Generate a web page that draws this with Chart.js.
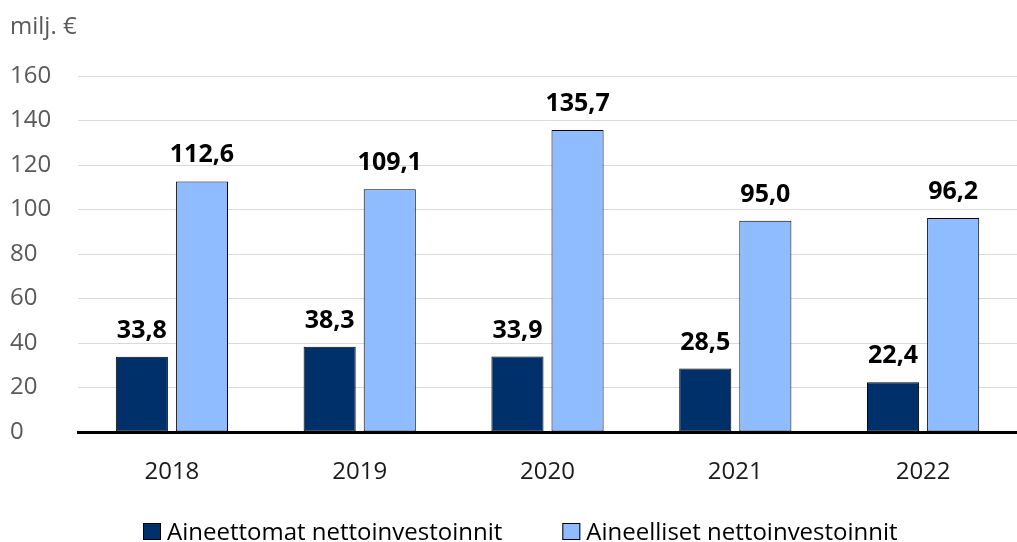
<!DOCTYPE html>
<html>
<head>
<meta charset="utf-8">
<script src="https://cdn.jsdelivr.net/npm/chart.js@4/dist/chart.umd.min.js"></script>
<style>
    html, body { margin: 0; padding: 0; background: #ffffff; }
    #wrap { width: 1017px; height: 542px; }
</style>
</head>
<body>
<div id="wrap"><canvas id="myChart" width="1017" height="542"></canvas></div>
<script>
// Data
var vuodet = ["2018", "2019", "2020", "2021", "2022"];
var aineettomat = [33.8, 38.3, 33.9, 28.5, 22.4];
var aineelliset = [112.6, 109.1, 135.7, 95.0, 96.2];
var sarjaNimet = ["Aineettomat nettoinvestoinnit", "Aineelliset nettoinvestoinnit"];
var yksikko = "milj. €";

var fontti = "'Open Sans', 'Noto Sans', sans-serif";

function muotoile(v) {
    return v.toFixed(1).replace(".", ",");
}

// arvot pylväiden yläpuolelle
var arvoPlugin = {
    id: "arvot",
    afterDatasetsDraw: function (chart) {
        var ctx = chart.ctx;
        ctx.save();
        ctx.font = "bold 25px " + fontti;
        ctx.fillStyle = "#000000";
        ctx.textAlign = "center";
        ctx.textBaseline = "alphabetic";
        chart.data.datasets.forEach(function (ds, i) {
            chart.getDatasetMeta(i).data.forEach(function (el, j) {
                ctx.fillText(muotoile(ds.data[j]), el.x, el.y - 19);
            });
        });
        ctx.restore();
    }
};

// yksikkö ja selite
var tekstiPlugin = {
    id: "tekstit",
    afterDraw: function (chart) {
        var ctx = chart.ctx;
        ctx.save();
        ctx.font = "24px " + fontti;
        ctx.fillStyle = "#595959";
        ctx.textBaseline = "alphabetic";
        ctx.textAlign = "left";
        ctx.fillText(yksikko, 10, 34);

        // selite
        ctx.font = "24px " + fontti;
        var x = 143;
        var y = 540;
        chart.data.datasets.forEach(function (ds, i) {
            ctx.fillStyle = ds.backgroundColor;
            ctx.fillRect(x, y - 17, 18, 17);
            ctx.strokeStyle = "#000000";
            ctx.lineWidth = 1;
            ctx.strokeRect(x + 0.5, y - 16.5, 17, 16);
            ctx.fillStyle = "#000000";
            ctx.fillText(ds.label, x + 24, y);
            x += 24 + ctx.measureText(ds.label).width + 60;
        });
        ctx.restore();
    }
};

var ctx = document.getElementById("myChart").getContext("2d");
var myChart = new Chart(ctx, {
    type: "bar",
    data: {
        labels: vuodet,
        datasets: [
            {
                label: sarjaNimet[0],
                data: aineettomat,
                backgroundColor: "#003069",
                borderColor: "#000000",
                borderWidth: 1,
                borderSkipped: false,
                categoryPercentage: 0.64,
                barPercentage: 0.867,
            },
            {
                label: sarjaNimet[1],
                data: aineelliset,
                backgroundColor: "#8fbcff",
                borderColor: "#000000",
                borderWidth: 1,
                borderSkipped: false,
                categoryPercentage: 0.64,
                barPercentage: 0.867,
            },
        ],
    },
    options: {
        responsive: false,
        animation: false,
        devicePixelRatio: 1,
        layout: {
            padding: { top: 76, left: 10, right: 0, bottom: 0 },
        },
        plugins: {
            legend: { display: false },
            tooltip: { enabled: false },
        },
        scales: {
            x: {
                grid: { display: false },
                border: { color: "#000000", width: 3 },
                ticks: {
                    color: "#1a1a1a",
                    font: { family: fontti, size: 24 },
                    padding: 18,
                },
                afterFit: function (scale) {
                    scale.height = 110;
                },
            },
            y: {
                min: 0,
                max: 160,
                ticks: {
                    stepSize: 20,
                    color: "#595959",
                    crossAlign: "far",
                    font: { family: fontti, size: 24 },
                },
                grid: {
                    color: "#d9d9d9",
                    lineWidth: 1,
                    drawTicks: false,
                },
                border: { display: false },
                afterFit: function (scale) {
                    scale.width = 68;
                },
            },
        },
    },
    plugins: [arvoPlugin, tekstiPlugin],
});
</script>
</body>
</html>
